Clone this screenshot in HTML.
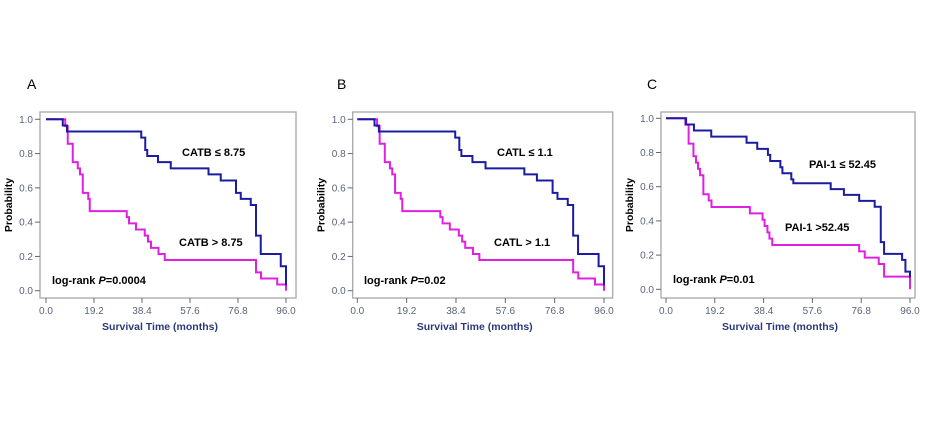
<!DOCTYPE html>
<html><head><meta charset="utf-8"><style>
body{margin:0;background:#fff;}
svg{display:block;font-family:"Liberation Sans",sans-serif;}
</style></head><body>
<svg id="fig" width="926" height="446" viewBox="0 0 926 446"></svg>
<script>
const xTicks=[0,19.2,38.4,57.6,76.8,96];
const xTickLabels=["0.0","19.2","38.4","57.6","76.8","96.0"];
const yTicks=[0,0.2,0.4,0.6,0.8,1.0];
const yTickLabels=["0.0","0.2","0.4","0.6","0.8","1.0"];
// [time, survival] steps
const blueA=[[0,1],[6.7,0.964],[8.4,0.929],[38.1,0.893],[39.7,0.821],[40.5,0.786],[44.8,0.75],[49.9,0.714],[65,0.679],[69.9,0.643],[76,0.571],[77.9,0.536],[81.9,0.5],[84,0.321],[85.9,0.214],[93.9,0.143],[96,0.03]];
const pinkA=[[0,1],[7.7,0.96],[8.7,0.857],[10.7,0.75],[12.7,0.714],[13.6,0.679],[14.7,0.571],[16.9,0.536],[17.5,0.464],[32.3,0.429],[33.2,0.393],[36,0.357],[39.5,0.321],[40.8,0.286],[42,0.25],[45,0.214],[47.5,0.179],[84,0.107],[86,0.071],[92.5,0.036],[96,0]];
const blueB=[[0,1],[6.7,0.964],[8.4,0.929],[38.1,0.893],[39.7,0.821],[40.5,0.786],[44.8,0.75],[49.9,0.714],[65,0.679],[69.9,0.643],[76,0.571],[77.9,0.536],[81.9,0.5],[84,0.321],[85.9,0.214],[93.9,0.143],[96,0.03]];
const pinkB=[[0,1],[7.7,0.96],[8.7,0.857],[10.7,0.75],[12.7,0.714],[13.6,0.679],[14.7,0.571],[16.9,0.536],[17.5,0.464],[32.3,0.429],[33.2,0.393],[36,0.357],[39.5,0.321],[40.8,0.286],[42,0.25],[45,0.214],[47.5,0.179],[84,0.107],[86,0.071],[92.5,0.036],[96,0]];
const blueC=[[0,1],[7.9,0.964],[11,0.929],[17.8,0.893],[31.7,0.857],[35.9,0.821],[40.1,0.786],[41,0.75],[45,0.714],[45.8,0.679],[49.3,0.643],[50.1,0.62],[64.8,0.586],[70,0.552],[76,0.517],[82.1,0.483],[84.5,0.276],[85.8,0.207],[92.9,0.172],[94.2,0.103],[96,0.069]];
const pinkC=[[0,1],[7.6,0.963],[8.9,0.852],[10.8,0.778],[11.8,0.741],[12.6,0.704],[13.4,0.667],[14.7,0.556],[16.8,0.519],[17.9,0.481],[33,0.444],[38,0.407],[38.8,0.37],[39.9,0.333],[40.7,0.296],[41.8,0.259],[76,0.222],[78.2,0.185],[83.7,0.148],[85.8,0.074],[96,0]];

const NS="http://www.w3.org/2000/svg";
const svg=document.getElementById('fig');
function mk(tag,attrs,parent,text){const e=document.createElementNS(NS,tag);for(const k in attrs)e.setAttribute(k,attrs[k]);if(text!==undefined)e.textContent=text;(parent||svg).appendChild(e);return e;}

const panels=[
 {id:'a',letter:'A',lx:27,frame:[40,112,296,298],x0:46,x1:286,y1:119.3,y0:290.7,blue:blueA,pink:pinkA,
  lab1:["CATB ≤ 8.75",182,156],lab2:["CATB > 8.75",179,246],lr:["0.0004",52,284]},
 {id:'b',letter:'B',lx:337,frame:[352.7,112,612.7,298],x0:357.3,x1:604,y1:119.3,y0:290.7,blue:blueB,pink:pinkB,
  lab1:["CATL ≤ 1.1",497,156],lab2:["CATL > 1.1",494,246],lr:["0.02",364,284]},
 {id:'c',letter:'C',lx:647,frame:[661,112,915,298],x0:666,x1:910,y1:118.3,y0:289.3,blue:blueC,pink:pinkC,
  lab1:["PAI-1 ≤ 52.45",809,168],lab2:["PAI-1 >52.45",785,231],lr:["0.01",673,283]}
];

panels.forEach(p=>{
 const g=mk('g',{});
 
 
 const sx=t=>p.x0+(p.x1-p.x0)*t/96;
 const sy=v=>p.y0-(p.y0-p.y1)*v;
 const L=mk('text',{x:p.lx,y:89,'font-size':14,fill:'#000'},g,p.letter);
 
 
 const [fx0,fy0,fx1,fy1]=p.frame;
 const fr=mk('rect',{x:fx0,y:fy0,width:fx1-fx0,height:fy1-fy0,fill:'none',stroke:'#a8a8a8','stroke-width':1.3},g);
 
 
 yTicks.forEach((v,i)=>{
  mk('line',{x1:fx0-5,x2:fx0,y1:sy(v),y2:sy(v),stroke:'#666','stroke-width':1},g);
  const t=mk('text',{x:fx0-7,y:sy(v)+3.5,'font-size':10,fill:'#5a6478','text-anchor':'end'},g,yTickLabels[i]);
  
  
 });
 xTicks.forEach((v,i)=>{
  mk('line',{x1:sx(v),x2:sx(v),y1:fy1,y2:fy1+5,stroke:'#666','stroke-width':1},g);
  const t=mk('text',{x:sx(v),y:fy1+16,'font-size':10,fill:'#5a6478','text-anchor':'middle'},g,xTickLabels[i]);
  
  
 });
 const xt=mk('text',{x:(fx0+fx1)/2-8,y:fy1+32,'font-size':10.5,'font-weight':'bold',fill:'#2a3a7a','text-anchor':'middle'},g,'Survival Time (months)');
 
 
 const cy=(fy0+fy1)/2;
 const yt=mk('text',{x:fx0-28,y:cy,'font-size':10.5,'font-weight':'bold',fill:'#000','text-anchor':'middle',transform:`rotate(-90 ${fx0-28} ${cy})`},g,'Probability');
 
 
 function step(arr){let d='M'+sx(arr[0][0])+' '+sy(arr[0][1]);for(let i=1;i<arr.length;i++){d+=' H'+sx(arr[i][0])+' V'+sy(arr[i][1]);}return d;}
 const pk=mk('path',{d:step(p.pink),fill:'none',stroke:'#e020e0','stroke-width':2},g);
 
 
 const bl=mk('path',{d:step(p.blue),fill:'none',stroke:'#1c1ca0','stroke-width':2},g);
 
 
 const l1=mk('text',{x:p.lab1[1],y:p.lab1[2],'font-size':11,'font-weight':'bold',fill:'#000'},g,p.lab1[0]);
 
 
 const l2=mk('text',{x:p.lab2[1],y:p.lab2[2],'font-size':11,'font-weight':'bold',fill:'#000'},g,p.lab2[0]);
 
 
 const lr=mk('text',{x:p.lr[1],y:p.lr[2],'font-size':11,'font-weight':'bold',fill:'#000'},g);
 
 
 mk('tspan',{},lr,'log-rank ');
 mk('tspan',{'font-style':'italic'},lr,'P');
 mk('tspan',{},lr,'='+p.lr[0]);
});
</script>
</body></html>
